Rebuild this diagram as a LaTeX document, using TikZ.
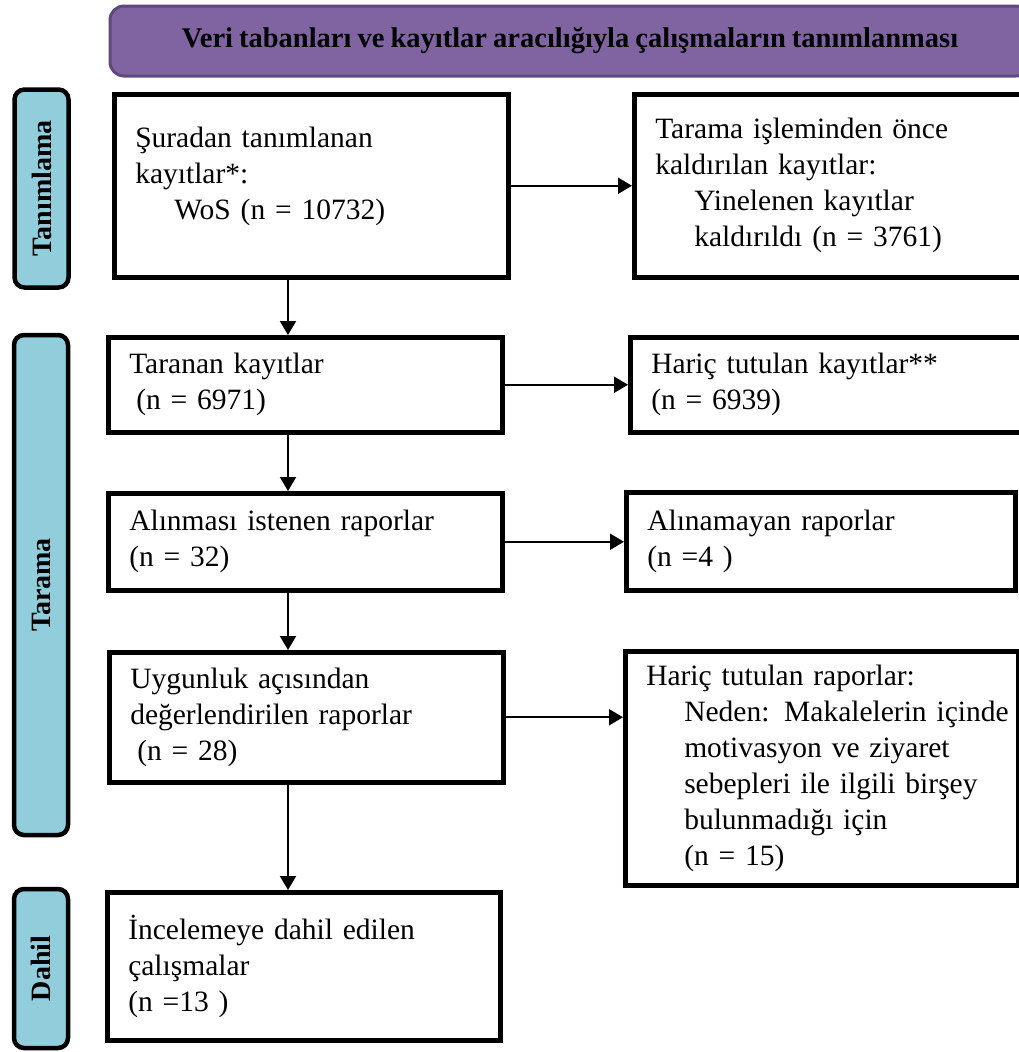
\documentclass[tikz,border=0pt]{standalone}
\usepackage{fontspec}
\setmainfont{Liberation Serif}[WordSpace=0.85]
\usetikzlibrary{arrows.meta}
\definecolor{headpurple}{RGB}{128,100,162}
\definecolor{headborder}{RGB}{95,73,122}
\definecolor{phaseblue}{RGB}{146,205,220}
\begin{document}
\begin{tikzpicture}
    [x=1pt,y=-1pt,
    every node/.style={font=\fontsize{29.5}{36}\selectfont},
    header/.style={draw=headborder, line width=3pt, fill=headpurple, rounded corners=14pt,
      minimum width=920pt, minimum height=70pt, font=\bfseries\fontsize{28.5}{34}\selectfont},
    phase/.style={draw, line width=4.5pt, fill=phaseblue, rounded corners=10pt, rotate=90,
      minimum height=54pt, font=\bfseries\fontsize{28}{32}\selectfont},
    stepbox/.style={draw, line width=4.5pt, anchor=north west, align=left,
      inner xsep=21pt, inner ysep=0pt},
    arr/.style={line width=2pt, -{Triangle[length=14pt,width=16pt]}}]
    \useasboundingbox (0,0) rectangle (1019,1052);
    \node[header] (head) at (570,41) {Veri tabanları ve kayıtlar aracılığıyla çalışmaların tanımlanması};
    % phases
    \node[phase, minimum width=198pt] (tanimlama) at (41.5,188.5) {Tanımlama};
    \node[phase, minimum width=500pt] (tarama) at (41,585) {Tarama};
    \node[phase, minimum width=159pt] (dahil) at (41,968.5) {Dahil};
    % left column
    \node[stepbox, text width=352pt, minimum height=183pt, text depth=97pt] (kayit) at (112,92)
      {Şuradan tanımlanan\\ kayıtlar*:\\ \hspace*{39pt}WoS (n = 10732)};
    \node[stepbox, text width=352pt, minimum height=95pt] (taranan) at (106,335)
      {Taranan kayıtlar\\ \hspace*{7pt}(n = 6971)};
    \node[stepbox, text width=352pt, minimum height=97pt] (istenen) at (106,491)
      {Alınması istenen raporlar\\ (n = 32)};
    \node[stepbox, text width=352pt, minimum height=130pt] (uygun) at (107,650)
      {Uygunluk açısından\\ değerlendirilen raporlar\\ \hspace*{7pt}(n = 28)};
    \node[stepbox, text width=351pt, minimum height=148pt] (incelenen) at (105,890)
      {İncelemeye dahil edilen\\ çalışmalar\\ (n =13 )};
    % right column
    \node[stepbox, text width=358pt, minimum height=183pt] (yinelenen) at (632,92)
      {Tarama işleminden önce\\ kaldırılan kayıtlar:\\ \hspace*{39pt}Yinelenen kayıtlar\\ \hspace*{39pt}kaldırıldı (n = 3761)};
    \node[stepbox, text width=362pt, minimum height=95pt] (haric) at (628,335)
      {Hariç tutulan kayıtlar**\\ (n = 6939)};
    \node[stepbox, text width=347pt, minimum height=98pt] (alinamayan) at (624,490)
      {Alınamayan raporlar\\ (n =4 )};
    \node[stepbox, text width=351pt, minimum height=234pt] (dislanan) at (623,649)
      {Hariç tutulan raporlar:\\ \hspace*{38pt}\mbox{Neden: Makalelerin içinde}\\ \hspace*{38pt}motivasyon ve ziyaret\\
       \hspace*{38pt}sebepleri ile ilgili birşey\\ \hspace*{38pt}bulunmadığı için\\ \hspace*{38pt}(n = 15)};
    % connectors
    \foreach \a/\b in {kayit/yinelenen, taranan/haric, istenen/alinamayan, uygun/dislanan}
      \draw[arr] (\a.east) -- (\a.east -| \b.west);
    \foreach \a/\b in {kayit/taranan, taranan/istenen, istenen/uygun, uygun/incelenen}
      \draw[arr] (288,0 |- \a.south) -- (288,0 |- \b.north);
\end{tikzpicture}
\end{document}
